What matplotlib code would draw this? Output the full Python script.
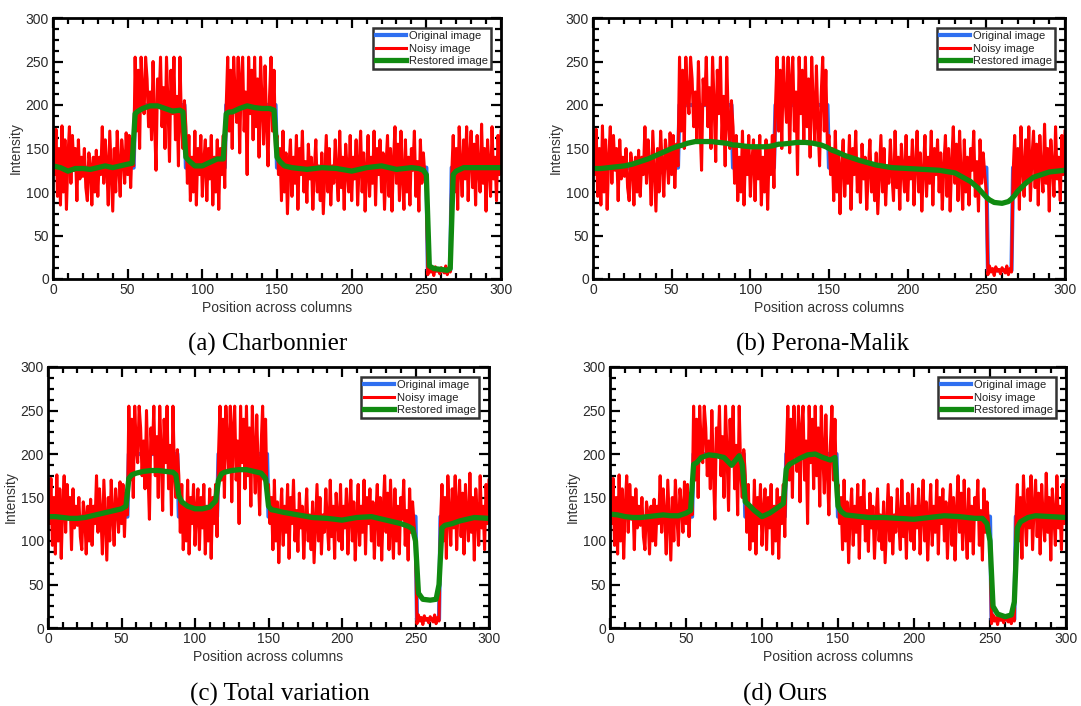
import numpy as np
import matplotlib
matplotlib.use('Agg')
import matplotlib.pyplot as plt
from matplotlib.ticker import MultipleLocator

# column positions
cols = np.arange(301)

# original step profile (level, first column, last column)
orig_levels = [128, 200, 128, 200, 128, 10, 128]
orig_starts = [0, 55, 89, 116, 150, 251, 267]
orig_ends = [54, 88, 115, 149, 250, 266, 300]

# noisy profile, column by column
noisy = (
  [165, 120, 172, 95, 150, 85, 176, 100, 160, 80,
   140, 175, 110, 165, 125, 150, 90, 160, 115, 140,
   118, 150, 105, 90, 145, 130, 85, 140, 100, 148,
   95, 140, 120, 175, 110, 160, 130, 85, 170, 125,
   78, 150, 100, 170, 130, 95, 160, 140, 110, 168,
   120, 165, 105, 155, 130]
  + [255, 170, 240, 150, 255, 210, 190, 255, 230, 175,
     215, 160, 250, 180, 125, 230, 200, 255, 175, 220,
     150, 255, 200, 135, 240, 190, 255, 160, 210, 130,
     255, 180, 150, 205]
  + [175, 110, 165, 90, 140, 100, 170, 85, 150, 120,
     165, 95, 135, 160, 90, 150, 115, 165, 85, 140,
     100, 160, 80, 150, 120, 165, 105]
  + [200, 255, 170, 240, 150, 255, 210, 180, 255, 145,
     230, 255, 170, 215, 120, 255, 190, 240, 160, 255,
     175, 230, 140, 255, 200, 155, 245, 180, 130, 210,
     255, 170, 240, 150]
  + [165, 120, 150, 90, 170, 100, 145, 75, 130, 160,
     95, 140, 110, 165, 80, 150, 120, 170, 100, 135,
     88, 155, 115, 140, 80, 125, 160, 100, 130, 90,
     145, 75, 120, 165, 100, 150, 85, 130, 110, 160,
     120, 90, 170, 105, 140, 80, 155, 125, 100, 165,
     90, 140, 115, 160, 85, 130, 170, 100, 145, 78,
     125, 165, 95, 140, 110, 170, 85, 150, 120, 160,
     100, 145, 80, 130, 165, 95, 150, 78, 135, 175,
     110, 155, 90, 170, 120, 80, 160, 100, 140, 85,
     150, 125, 170, 95, 135, 78, 160, 110, 145, 120,
     100]
  + [5, 15, 8, 12, 4, 14, 9, 11, 6, 13, 10, 7, 15, 5, 12, 8]
  + [120, 165, 100, 150, 80, 175, 130, 95, 160, 115,
     175, 90, 140, 170, 105, 155, 85, 165, 125, 100,
     178, 110, 150, 78, 160, 130, 95, 175, 115, 140,
     90, 165, 120, 170]
)

# restored curves, sampled at these columns
rest_x = [0, 5, 10, 15, 20, 25, 30, 35, 40, 45, 50, 53, 55, 57, 60, 65, 70, 75, 80, 85,
          87, 89, 91, 95, 100, 105, 110, 114, 116, 118, 120, 125, 130, 135, 140, 145,
          148, 150, 152, 155, 160, 170, 180, 190, 200, 210, 220, 230, 240, 245, 248,
          250, 252, 255, 260, 264, 266, 268, 270, 275, 280, 290, 300]

rest_charb = [130, 128, 124, 127, 127, 126, 128, 130, 128, 130, 132, 133, 190, 193, 196, 199, 199, 196, 193, 194,
              192, 140, 136, 130, 130, 134, 138, 138, 190, 192, 192, 196, 199, 197, 196, 196,
              194, 140, 135, 130, 128, 126, 128, 127, 124, 128, 130, 126, 128, 127, 125,
              120, 15, 12, 11, 10, 12, 120, 124, 128, 128, 128, 128]

rest_pm = [127, 127, 128, 129, 130, 132, 135, 138, 142, 146, 150, 152, 153, 154, 156, 158, 158, 158, 157, 156,
           155, 154, 154, 153, 152, 152, 152, 153, 154, 155, 155, 156, 157, 157, 156, 154,
           152, 150, 148, 146, 142, 136, 131, 128, 127, 126, 125, 122, 112, 104, 98,
           94, 91, 88, 87, 89, 92, 96, 101, 110, 117, 123, 125]

rest_tv = [128, 128, 127, 126, 126, 127, 129, 131, 133, 135, 137, 140, 172, 176, 178, 180, 181, 181, 180, 179,
           176, 152, 145, 140, 137, 137, 139, 146, 170, 177, 179, 181, 182, 182, 180, 178,
           172, 140, 136, 135, 133, 130, 127, 126, 124, 127, 128, 124, 120, 117, 114,
           100, 40, 33, 32, 33, 50, 115, 118, 120, 123, 127, 126]

rest_ours = [131, 130, 128, 127, 127, 128, 129, 130, 129, 129, 132, 135, 188, 190, 196, 199, 198, 196, 187, 198,
             188, 145, 142, 135, 128, 132, 138, 143, 183, 188, 190, 195, 199, 200, 196, 193,
             196, 140, 134, 130, 129, 127, 127, 126, 125, 127, 129, 128, 126, 126, 120,
             100, 25, 16, 13, 15, 30, 115, 122, 127, 129, 128, 127]

captions = ['(a) Charbonnier', '(b) Perona-Malik', '(c) Total variation', '(d) Ours']
restored = [rest_charb, rest_pm, rest_tv, rest_ours]

# original as a step line
orig_x, orig_y = [], []
for lev, s, e in zip(orig_levels, orig_starts, orig_ends):
  orig_x += [s, e]
  orig_y += [lev, lev]

W, H = 1081, 706
fig = plt.figure(figsize=(W / 100, H / 100), dpi=100)

# axes boxes in pixels: left, top, right, bottom
boxes = [(53, 18, 501, 279), (593, 18, 1065, 279), (48, 367, 489, 628), (610, 367, 1066, 628)]
cap_pos = [(268, 344), (822, 344), (280, 694), (785, 694)]

sans = ['Liberation Sans', 'DejaVu Sans']

for k, (l, t, r, b) in enumerate(boxes):
  ax = fig.add_axes([l / W, 1 - b / H, (r - l) / W, (b - t) / H])
  ax.plot(orig_x, orig_y, color='#2f6ff0', lw=3, label='Original image')
  ax.plot(cols, noisy, color='#ff0000', lw=2.2, label='Noisy image')
  ax.plot(rest_x, restored[k], color='#108a10', lw=3.8, label='Restored image')
  ax.set_xlim(0, 300)
  ax.set_ylim(0, 300)
  ax.xaxis.set_major_locator(MultipleLocator(50))
  ax.xaxis.set_minor_locator(MultipleLocator(10))
  ax.yaxis.set_major_locator(MultipleLocator(50))
  ax.yaxis.set_minor_locator(MultipleLocator(12.5))
  ax.tick_params(which='both', direction='in', top=True, right=True, width=1.6, colors='black',
                 labelcolor='#2a2a2a', labelsize=10, pad=3)
  ax.tick_params(which='major', length=7)
  ax.tick_params(which='minor', length=4)
  for lab in ax.get_xticklabels() + ax.get_yticklabels():
    lab.set_family(sans)
  for sp in ax.spines.values():
    sp.set_linewidth(2)
  ax.set_xlabel('Position across columns', family=sans, fontsize=10, color='#333333', labelpad=3)
  ax.set_ylabel('Intensity', family=sans, fontsize=10, color='#333333', labelpad=2)
  leg = ax.legend(loc='upper right', handlelength=2.7, handletextpad=0.2,
                  borderpad=0.3, labelspacing=0.2, borderaxespad=0.9, fancybox=False,
                  prop={'family': sans, 'size': 8})
  leg.get_frame().set_edgecolor('#333333')
  leg.get_frame().set_linewidth(1.8)
  leg.get_frame().set_alpha(1)
  for txt in leg.get_texts():
    txt.set_color('#222222')
  cx, cy = cap_pos[k]
  fig.text(cx / W, 1 - cy / H, captions[k], ha='center', va='center',
           family=['Liberation Serif', 'DejaVu Serif'], fontsize=18)

plt.savefig('out.png', dpi=100)
